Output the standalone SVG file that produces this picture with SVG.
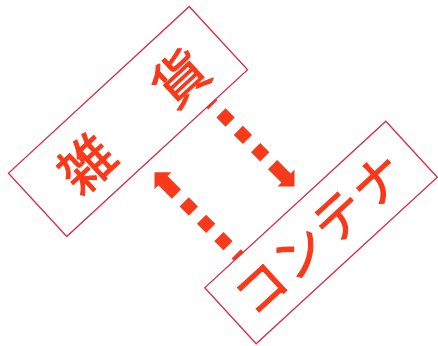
<svg xmlns="http://www.w3.org/2000/svg" xmlns:xlink="http://www.w3.org/1999/xlink" width="438" height="346" viewBox="0 0 438 346">
  <style>
    .box { fill: #ffffff; stroke: #d2304c; stroke-width: 1.3; }
    .lbl { fill: #f8391a; stroke: #f8391a; stroke-width: 1.1; stroke-linejoin: round; font-family: "Noto Sans CJK JP", "Noto Sans CJK SC", sans-serif; font-weight: 400; dominant-baseline: central; }
    .dash { stroke: #f8391a; stroke-width: 13; stroke-dasharray: 13 11.5; fill: none; }
    .head { fill: #f8391a; }
  </style>
  <defs>
    <path id="ah" class="head" d="M-31,-6.5 H-12 V-12 L0,0 L-12,12 V6.5 H-31 Z"/>
  </defs>
  <rect width="438" height="346" fill="#ffffff"/>
  <g id="connectors">
    <g id="zakka-to-container" transform="translate(294.5,186.5) rotate(45)">
      <line class="dash" x1="-42" y1="0" x2="-118.2" y2="0"/>
      <use xlink:href="#ah" href="#ah"/>
    </g>
    <g id="container-to-zakka" transform="translate(154.5,172.2) rotate(-135)">
      <line class="dash" x1="-42" y1="0" x2="-119.9" y2="0"/>
      <use xlink:href="#ah" href="#ah"/>
    </g>
  </g>
  <g id="zakka" transform="translate(128,121.5) rotate(-42.7)">
    <rect class="box" x="-123" y="-43" width="246" height="86"/>
    <text class="lbl" x="-86" y="0" font-size="54" letter-spacing="9.5">雑　貨</text>
  </g>
  <g id="container" transform="translate(321,232.5) rotate(-42.6)">
    <rect class="box" x="-123" y="-38" width="246" height="76"/>
    <text class="lbl" x="-107.5" y="-3" font-size="51" letter-spacing="2">コンテナ</text>
  </g>
</svg>
